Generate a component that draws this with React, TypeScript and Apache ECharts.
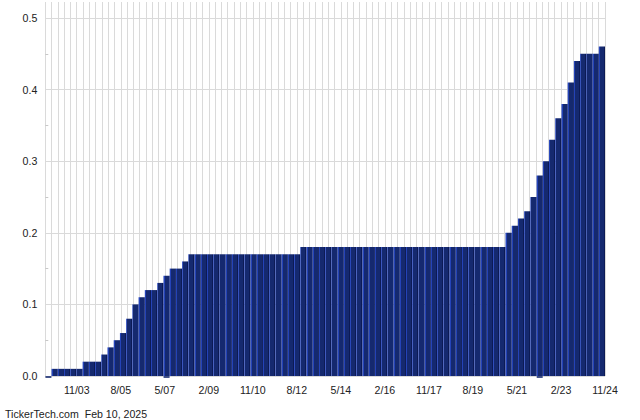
import React, { useEffect, useRef } from "react";
import * as echarts from "echarts";

// Dividend per payment, oldest first (first slot is an empty placeholder)
const dividends: number[] = [
  0,
  0.01, 0.01, 0.01, 0.01, 0.01,
  0.02, 0.02, 0.02,
  0.03, 0.04, 0.05, 0.06, 0.08, 0.10, 0.11, 0.12, 0.12, 0.13, 0.14, 0.15, 0.15, 0.16,
  0.17, 0.17, 0.17, 0.17, 0.17, 0.17, 0.17, 0.17, 0.17,
  0.17, 0.17, 0.17, 0.17, 0.17, 0.17, 0.17, 0.17, 0.17,
  0.18, 0.18, 0.18, 0.18, 0.18, 0.18, 0.18, 0.18, 0.18, 0.18, 0.18,
  0.18, 0.18, 0.18, 0.18, 0.18, 0.18, 0.18, 0.18, 0.18, 0.18, 0.18,
  0.18, 0.18, 0.18, 0.18, 0.18, 0.18, 0.18, 0.18, 0.18, 0.18, 0.18,
  0.20, 0.21, 0.22, 0.23, 0.25, 0.28, 0.30, 0.33, 0.36, 0.38, 0.41, 0.44,
  0.45, 0.45, 0.45, 0.46,
];

const periods: string[] = dividends.map((_, i) => `P${i}`);

// payments flagged with a small mark below the axis
const markerIndices: number[] = [0, 19, 79];

const tickLabels: string[] = [
  "11/03", "8/05", "5/07", "2/09", "11/10", "8/12", "5/14",
  "2/16", "11/17", "8/19", "5/21", "2/23", "11/24",
];
const gridSlots = 89;
const firstLabelSlot = 5;
const labelStep = 7;

const yTicks = { min: 0, max: 0.5223, interval: 0.1 };

const FONT = '"Liberation Sans", Arial, sans-serif';

export default function App() {
  const ref = useRef<HTMLDivElement>(null);
  useEffect(() => {
    if (!ref.current) return;
    const chart = echarts.init(ref.current, undefined, { renderer: "svg" });
    const barFill = new echarts.graphic.LinearGradient(0, 0, 1, 0, [
      { offset: 0, color: "#2443b8" },
      { offset: 0.17, color: "#2443b8" },
      { offset: 0.17, color: "#15296f" },
      { offset: 0.83, color: "#15296f" },
      { offset: 0.83, color: "#0c1a55" },
      { offset: 1, color: "#0c1a55" },
    ]);
    chart.setOption({
      animation: false,
      grid: { left: 45.3, right: 35, top: 2, bottom: 44 },
      xAxis: [
        {
          type: "category",
          data: periods,
          position: "bottom",
          boundaryGap: true,
          axisLine: { show: false },
          axisTick: { show: false },
          axisLabel: { show: false },
          splitLine: { show: false },
        },
        {
          type: "value",
          min: 0,
          max: gridSlots,
          interval: 1,
          position: "bottom",
          axisLine: { show: false },
          axisTick: { show: false },
          splitLine: { show: true, lineStyle: { color: "#dadada", width: 1 } },
          axisLabel: {
            color: "#222",
            fontSize: 10.6,
            fontFamily: FONT,
            margin: 8,
            formatter: (v: number) => {
              const k = (Math.round(v) - firstLabelSlot) / labelStep;
              if (Number.isInteger(k) && k >= 0 && k < tickLabels.length) return tickLabels[k];
              return "";
            },
          },
        },
      ],
      yAxis: {
        type: "value",
        min: yTicks.min,
        max: yTicks.max,
        interval: yTicks.interval,
        axisLine: { show: false },
        axisTick: { show: false, inside: true },
        minorTick: { show: true, splitNumber: 2, length: 3, lineStyle: { color: "#c8c8c8" } },
        splitLine: { show: true, showMaxLine: false, lineStyle: { color: "#dadada", width: 1 } },
        axisLabel: {
          color: "#222",
          fontSize: 10.6,
          fontFamily: FONT,
          margin: 8,
          showMaxLabel: false,
          formatter: (v: number) => v.toFixed(1),
        },
      },
      series: [
        {
          type: "bar",
          xAxisIndex: 0,
          data: dividends,
          barCategoryGap: "0%",
          itemStyle: { color: barFill },
        },
        {
          type: "scatter",
          xAxisIndex: 0,
          data: markerIndices.map((i) => [i, 0]),
          symbol: "rect",
          symbolSize: [6, 2],
          symbolOffset: [0, 1],
          clip: false,
          z: 3,
          itemStyle: { color: "#14286e" },
        },
      ],
      graphic: [
        {
          type: "text",
          left: 5,
          bottom: 1,
          style: {
            text: "TickerTech.com  Feb 10, 2025",
            fill: "#222",
            font: `10.6px ${FONT}`,
          },
        },
      ],
    });
    return () => chart.dispose();
  }, []);
  return (
    <div
      ref={ref}
      style={{ position: "absolute", left: 0, top: 0, width: 640, height: 420 }}
    />
  );
}
